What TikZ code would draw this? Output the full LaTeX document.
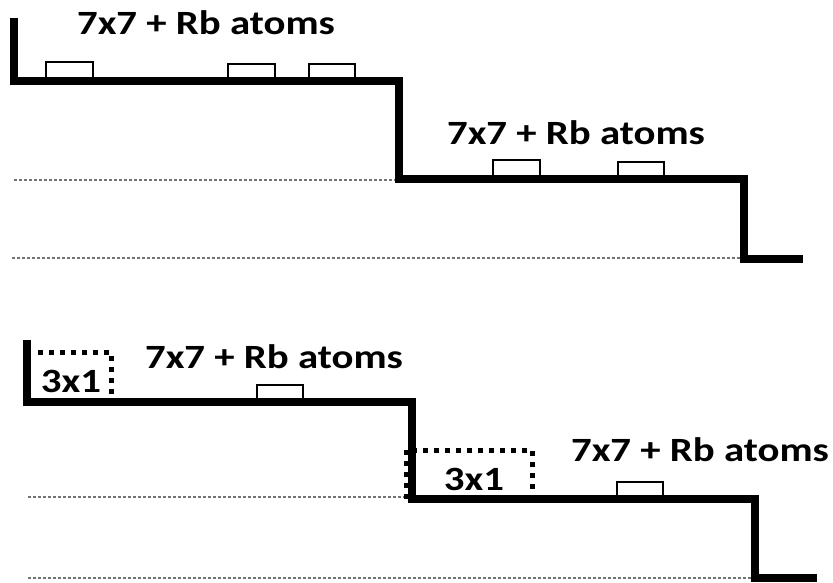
\documentclass[tikz,border=0pt]{standalone}
\usepackage{fontspec}
\setmainfont{Carlito}
\newcommand{\widetext}[1]{\scalebox{1.2}[1]{#1}}
\begin{document}
\begin{tikzpicture}[x=1pt,y=-1pt,
  step line/.style={line width=8pt,line join=miter,line cap=butt},
  atom/.style={draw=black,line width=1.4pt,fill=white},
  guide/.style={draw=black!55,line width=2.8pt,dash pattern=on 3pt off 2pt},
  recon/.style={draw=black,line width=5pt,dash pattern=on 5pt off 6pt},
  lbl/.style={font=\fontsize{34}{40}\selectfont\bfseries,inner sep=0pt,anchor=base}]
\useasboundingbox (0,0) rectangle (833,583);
% ---------- top diagram ----------
\draw[guide] (14,180) -- (396,180);
\draw[guide] (12,258) -- (741,258);
\draw[atom] (46,81) rectangle (93,62);
\draw[atom] (228,81) rectangle (275,64);
\draw[atom] (309,81) rectangle (355,64);
\draw[atom] (493,179) rectangle (540,160);
\draw[atom] (618,179) rectangle (664,162);
\draw[step line] (14,18) -- (14,81) -- (399,81) -- (399,179) -- (744,179) -- (744,259) -- (803,259);
\node[lbl] (t1) at (206,35) {\widetext{7x7 + Rb atoms}};
\node[lbl] (t2) at (576,145) {\widetext{7x7 + Rb atoms}};
% ---------- bottom diagram ----------
\draw[guide] (28,497) -- (404,497);
\draw[guide] (28,578) -- (751,578);
\draw[atom] (257,402) rectangle (303,385);
\draw[atom] (617,499) rectangle (663,482);
\draw[recon] (38,352) -- (111,352) -- (111,400);
\draw[recon] (406,499) -- (406,450) -- (532,450) -- (532,499);
\draw[step line] (27,340) -- (27,402) -- (412,402) -- (412,499) -- (755,499) -- (755,578) -- (817,578);
\node[lbl] (t3) at (274,368) {\widetext{7x7 + Rb atoms}};
\node[lbl] (t4) at (700,461) {\widetext{7x7 + Rb atoms}};
\node[lbl] (r1) at (71,392) {\widetext{3x1}};
\node[lbl] (r2) at (474,490) {\widetext{3x1}};
\end{tikzpicture}
\end{document}
